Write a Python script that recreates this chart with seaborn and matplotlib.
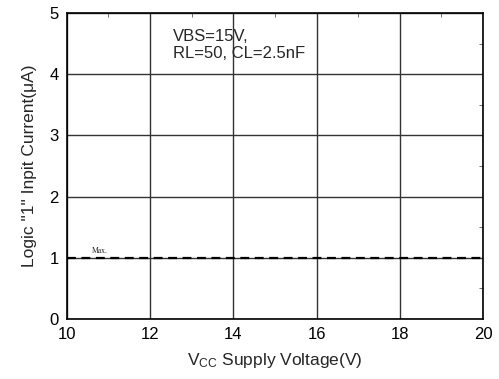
import matplotlib
matplotlib.use("Agg")
import matplotlib.pyplot as plt
import seaborn as sns
import pandas as pd
from matplotlib.ticker import MultipleLocator

sns.set_theme(style="white")
plt.rcParams['font.family'] = ['Liberation Sans', 'DejaVu Sans']
plt.rcParams['mathtext.fontset'] = 'custom'
plt.rcParams['mathtext.rm'] = 'Liberation Sans'
plt.rcParams['mathtext.it'] = 'Liberation Sans'

# Maximum logic "1" input current across the supply range
vcc = [10, 20]
i_max = [1.0, 1.0]
x_ticks = [10, 12, 14, 16, 18, 20]
y_ticks = [0, 1, 2, 3, 4, 5]

df = pd.DataFrame({"vcc": vcc, "i": i_max})

fig = plt.figure(figsize=(4.99, 3.79), dpi=100)
ax = fig.add_axes([0.134, 0.158, 0.834, 0.808])

sns.lineplot(data=df, x="vcc", y="i", ax=ax, color="black", linewidth=1.6,
             linestyle=(0, (4, 2.5)))

ax.set_xlim(10, 20)
ax.set_ylim(0, 5)
ax.set_xticks(x_ticks)
ax.set_yticks(y_ticks)
ax.xaxis.set_minor_locator(MultipleLocator(1))
ax.yaxis.set_minor_locator(MultipleLocator(0.5))
ax.grid(True, which="major", color="#333333", linewidth=1.0)
ax.tick_params(which="both", direction="in", top=True, right=True,
               labelsize=12, colors="black")
ax.tick_params(axis="x", which="major", length=0, pad=6)
ax.tick_params(axis="y", which="major", length=0, pad=6)
ax.tick_params(which="minor", length=3, width=0.6, color="#555555")
for s in ax.spines.values():
    s.set_color("black")
    s.set_linewidth(1.2)

ax.set_xlabel("V$_{\\mathregular{CC}}$ Supply Voltage(V)", fontsize=12.5, labelpad=6)
ax.set_ylabel("Logic \"1\" Inpit Current(\u03bcA)", fontsize=12.5, labelpad=9)

ax.text(12.55, 4.74, "VBS=15V,\nRL=50, CL=2.5nF", fontsize=12,
        va="top", ha="left", linespacing=1.2)
ax.text(10.6, 1.05, "Max.", fontsize=5.5, family="Liberation Serif",
        va="bottom", ha="left")

fig.savefig("out.png", dpi=100)
